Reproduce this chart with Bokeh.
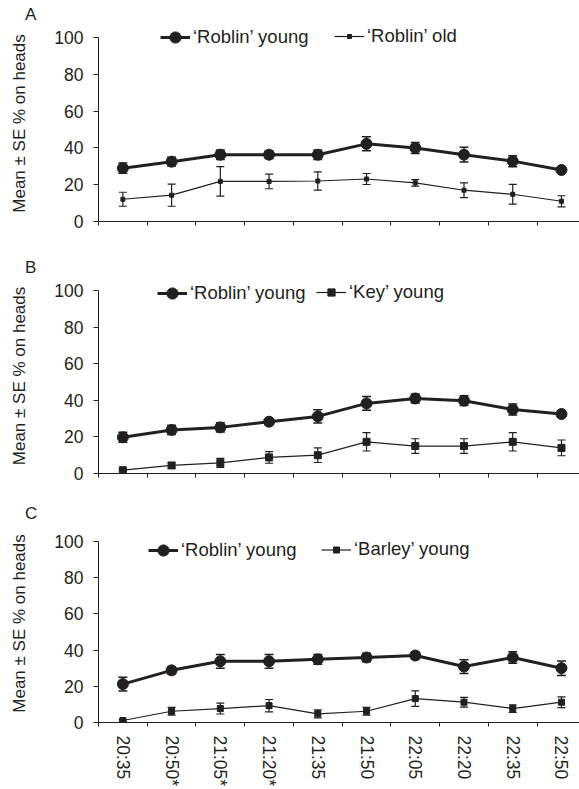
from bokeh.plotting import figure
from bokeh.layouts import column
from bokeh.models import (Range1d, FixedTicker, Whisker, TeeHead, ColumnDataSource,
                          Legend, LegendItem, Title)
from bokeh.embed import file_html
from bokeh.resources import INLINE

# ---------------- data ----------------
times = ["20:35", "20:50*", "21:05*", "21:20*", "21:35", "21:50", "22:05", "22:20", "22:35", "22:50"]
yticks = [0, 20, 40, 60, 80, 100]
ylabel = "Mean ± SE % on heads"

a_young = [29, 32.5, 36.3, 36.3, 36.3, 42.2, 40, 36.3, 32.8, 28]
a_young_se = [2.8, 2.4, 2.6, 2.0, 2.6, 3.8, 3.0, 4.0, 3.0, 1.6]
a_old = [12.1, 14.3, 21.8, 21.8, 22, 23.1, 21, 17, 14.8, 11]
a_old_se = [3.8, 6.0, 8.0, 4.0, 5.0, 3.0, 1.8, 4.0, 5.4, 3.0]

b_young = [19.8, 23.8, 25.2, 28.3, 31.2, 38.3, 41, 39.8, 35, 32.5]
b_young_se = [2.7, 2.5, 2.5, 1.6, 3.6, 3.8, 2.5, 2.7, 3.0, 1.8]
b_key = [1.8, 4.4, 5.8, 8.8, 10, 17.3, 15, 15, 17.3, 14]
b_key_se = [0.5, 1.6, 2.5, 3.2, 4.0, 5.0, 4.0, 4.0, 5.0, 4.3]

c_young = [21.2, 28.8, 33.8, 33.8, 34.9, 35.9, 37, 30.9, 35.9, 30]
c_young_se = [3.8, 2.0, 3.8, 3.8, 2.7, 2.3, 2.0, 3.8, 3.2, 4.0]
c_barley = [1.1, 6.2, 7.7, 9.3, 4.8, 6.2, 13.2, 11.2, 7.7, 11.2]
c_barley_se = [0.5, 2.1, 3.0, 3.4, 2.2, 2.1, 4.3, 2.7, 2.1, 3.0]

young_label = "\u2018Roblin\u2019 young"

FONT = "Liberation Sans"
INK = "#231f20"
XS = [i + 0.5 for i in range(len(times))]
CIRCLE = 11


def legend(item, x, y_center, frame_h, marker_size):
    # legend glyph marker size = 0.4 * min(glyph_w, glyph_h)
    g_h = int(round(marker_size / 0.4))
    h = max(g_h, 20)
    return Legend(items=[item], orientation="horizontal",
                  location=(int(x), int(round(frame_h - y_center - h / 2.0))),
                  glyph_width=30, glyph_height=g_h, label_height=20,
                  label_standoff=3, padding=0, margin=0,
                  border_line_color=None, background_fill_alpha=0,
                  label_text_font=FONT, label_text_font_size="18.5px",
                  label_text_color=INK)


def make_panel(letter, s1, e1, s2, e2, label2, sq_size, height, b_top, b_bottom,
               extra, h100, leg1_x, leg2_x, leg_dy, bottom_labels=False):
    y_end = 100 + extra * 100.0 / h100
    frame_h = h100 + extra
    p = figure(width=579, height=height, output_backend="svg", toolbar_location=None,
               x_range=Range1d(0, 9.87), y_range=Range1d(0, y_end),
               min_border_left=98, min_border_right=0, min_border_top=b_top,
               min_border_bottom=b_bottom)
    p.outline_line_color = None
    p.xgrid.visible = False
    p.ygrid.visible = False
    p.background_fill_color = "white"

    p.title = Title(text=letter, align="left", offset=-73.5, standoff=2.6,
                    text_font=FONT, text_font_size="17px", text_font_style="normal",
                    text_color=INK)

    # y axis
    yax = p.yaxis[0]
    yax.ticker = FixedTicker(ticks=yticks)
    yax.bounds = (0, 100)
    yax.major_tick_out = 5
    yax.major_tick_in = 0
    yax.minor_tick_out = 0
    yax.minor_tick_in = 0
    yax.major_label_standoff = 10
    yax.major_label_text_font = FONT
    yax.major_label_text_font_size = "17.5px"
    yax.major_label_text_color = INK
    yax.axis_line_color = INK
    yax.major_tick_line_color = INK
    yax.axis_label = ylabel
    yax.axis_label_standoff = 22
    yax.axis_label_text_font = FONT
    yax.axis_label_text_font_size = "17px"
    yax.axis_label_text_font_style = "normal"
    yax.axis_label_text_color = INK

    # x axis: small ticks at category boundaries, labels at category centres
    xax = p.xaxis[0]
    bounds_ticks = list(range(len(times)))
    if bottom_labels:
        xax.ticker = FixedTicker(ticks=XS, minor_ticks=bounds_ticks)
        xax.major_label_overrides = {x: t for x, t in zip(XS, times)}
        xax.major_label_orientation = "vertical"
        xax.major_label_standoff = 9
        xax.major_label_text_font = FONT
        xax.major_label_text_font_size = "17.5px"
        xax.major_label_text_color = INK
    else:
        xax.ticker = FixedTicker(ticks=[], minor_ticks=bounds_ticks)
    xax.major_tick_out = 0
    xax.major_tick_in = 0
    xax.minor_tick_out = 4
    xax.minor_tick_in = 0
    xax.minor_tick_line_color = INK
    xax.axis_line_color = INK

    # whiskers
    src1 = ColumnDataSource(dict(x=XS, y=s1, upper=[v + e for v, e in zip(s1, e1)],
                                 lower=[v - e for v, e in zip(s1, e1)]))
    src2 = ColumnDataSource(dict(x=XS, y=s2, upper=[v + e for v, e in zip(s2, e2)],
                                 lower=[v - e for v, e in zip(s2, e2)]))
    for src, w, cap in ((src1, 1.5, 9), (src2, 1.2, 8)):
        wk = Whisker(source=src, base="x", upper="upper", lower="lower",
                     line_color=INK, line_width=w,
                     upper_head=TeeHead(size=cap, line_color=INK, line_width=w),
                     lower_head=TeeHead(size=cap, line_color=INK, line_width=w))
        p.add_layout(wk)

    l2 = p.line("x", "y", source=src2, line_color=INK, line_width=1.2)
    m2 = p.scatter("x", "y", source=src2, marker="square", size=sq_size,
                   fill_color=INK, line_color=INK)
    l1 = p.line("x", "y", source=src1, line_color=INK, line_width=3)
    m1 = p.scatter("x", "y", source=src1, marker="circle", size=CIRCLE,
                   fill_color=INK, line_color=INK)

    # legend centre: leg_dy px below the 100 line
    yc = extra + leg_dy
    p.add_layout(legend(LegendItem(label=young_label, renderers=[l1, m1]),
                        leg1_x, yc, frame_h, CIRCLE))
    p.add_layout(legend(LegendItem(label=label2, renderers=[l2, m2]),
                        leg2_x, yc, frame_h, sq_size))
    return p


pa = make_panel("A", a_young, a_young_se, a_old, a_old_se, "\u2018Roblin\u2019 old", 4,
                height=252, b_top=25, b_bottom=31, extra=12, h100=184,
                leg1_x=62, leg2_x=236, leg_dy=0)
pb = make_panel("B", b_young, b_young_se, b_key, b_key_se, "\u2018Key\u2019 young", 7,
                height=247, b_top=26, b_bottom=26, extra=12, h100=183,
                leg1_x=59, leg2_x=218, leg_dy=3)
pc = make_panel("C", c_young, c_young_se, c_barley, c_barley_se, "\u2018Barley\u2019 young", 6,
                height=290, b_top=25, b_bottom=66, extra=17, h100=182,
                leg1_x=50, leg2_x=223, leg_dy=10, bottom_labels=True)

layout = column(pa, pb, pc, spacing=0)
open("out.html", "w").write(file_html(layout, INLINE))
